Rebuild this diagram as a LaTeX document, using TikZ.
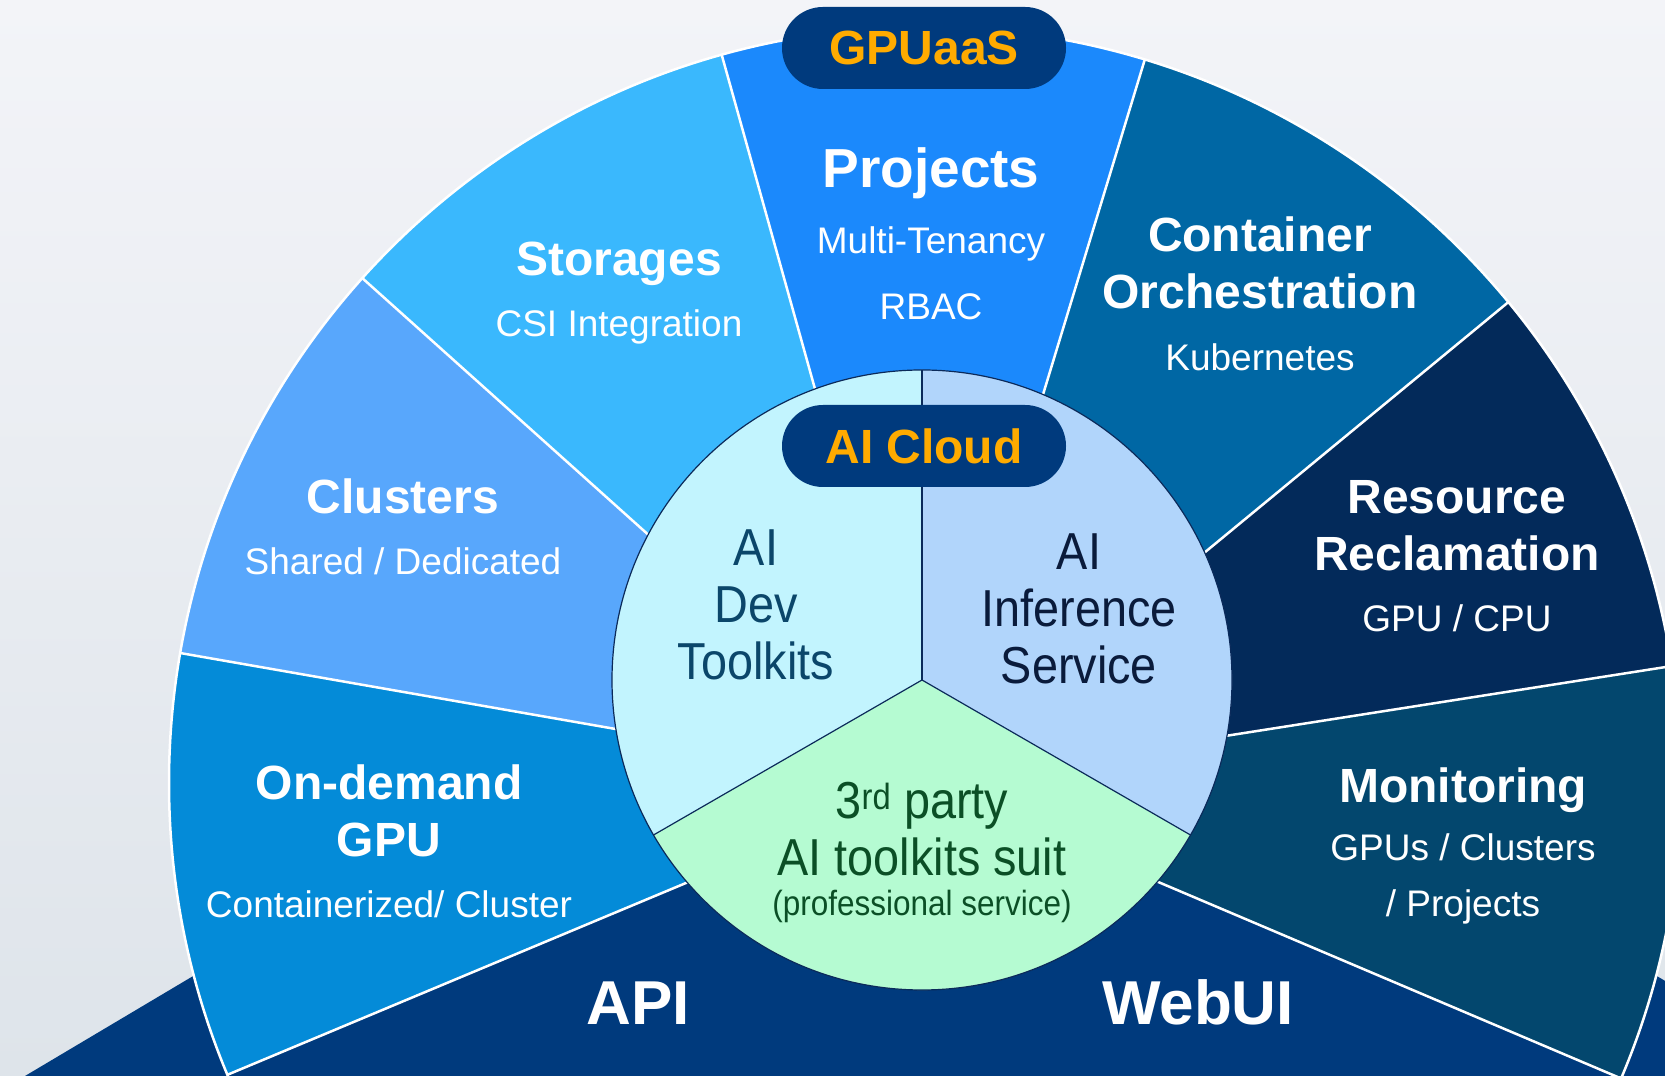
\documentclass[tikz,border=0pt]{standalone}
\usepackage{fontspec}
\setmainfont{Liberation Sans}
\newfontfamily\narrowfont{Liberation Sans}[FakeStretch=0.9]

\definecolor{bgtop}{HTML}{F3F4F8}
\definecolor{bgbottom}{HTML}{DEE4EA}
\definecolor{projblue}{HTML}{1B89FC}
\definecolor{storblue}{HTML}{3AB8FD}
\definecolor{clusblue}{HTML}{58A7FC}
\definecolor{gpublue}{HTML}{048BD8}
\definecolor{contblue}{HTML}{0067A4}
\definecolor{reclblue}{HTML}{032A5A}
\definecolor{monblue}{HTML}{03476E}
\definecolor{bandblue}{HTML}{003A7D}
\definecolor{gold}{HTML}{FFAB00}
\definecolor{devfill}{HTML}{C2F4FE}
\definecolor{inffill}{HTML}{B1D5FB}
\definecolor{partyfill}{HTML}{B5FBD2}
\definecolor{devtext}{HTML}{0B466A}
\definecolor{inftext}{HTML}{0A1B3B}
\definecolor{partytext}{HTML}{0B4F26}
\definecolor{rimline}{HTML}{0B2A5A}

\begin{document}
\begin{tikzpicture}[x=1pt, y=1pt,
    title/.style={text=white, font=\fontsize{48}{57}\selectfont\bfseries, align=center, anchor=base},
    sub/.style={text=white, font=\fontsize{37}{56}\selectfont, align=center, anchor=base},
    pill/.style={fill=bandblue, rounded corners=41pt, minimum width=284pt, minimum height=82pt,
                 text=gold, font=\fontsize{48}{48}\selectfont\bfseries},
    core/.style={font=\narrowfont\fontsize{52}{57}\selectfont, align=center, anchor=base},
    sep/.style={white, line width=2.5pt},
    rim/.style={rimline, line width=1.2pt}]
        \def \R {756}
        \def \r {310}

        \useasboundingbox (0,0) rectangle (1665,1076);
        \shade[top color=bgtop, bottom color=bgbottom] (0,0) rectangle (1665,1076);
        \clip (0,0) rectangle (1665,1076);

        \coordinate (O) at (925,293);
        \coordinate (C) at (922,396);

        % bottom band
        \fill[bandblue] (25,0) -- (925,535) -- (1825,0) -- cycle;

        % outer ring
        \fill[monblue]  (O) -- ++(-23:\R)  arc[start angle=-23,   end angle=8.9,   radius=\R] -- cycle;
        \fill[reclblue] (O) -- ++(8.9:\R)  arc[start angle=8.9,   end angle=39.5,  radius=\R] -- cycle;
        \fill[contblue] (O) -- ++(39.5:\R) arc[start angle=39.5,  end angle=73.1,  radius=\R] -- cycle;
        \fill[projblue] (O) -- ++(73.1:\R) arc[start angle=73.1,  end angle=105.6, radius=\R] -- cycle;
        \fill[storblue] (O) -- ++(105.6:\R) arc[start angle=105.6, end angle=138.1, radius=\R] -- cycle;
        \fill[clusblue] (O) -- ++(138.1:\R) arc[start angle=138.1, end angle=170.1, radius=\R] -- cycle;
        \fill[gpublue]  (O) -- ++(170.1:\R) arc[start angle=170.1, end angle=202.7, radius=\R] -- cycle;
        \fill[bandblue] (O) -- ++(202.7:\R) arc[start angle=202.7, end angle=337,   radius=\R] -- cycle;

        \draw[sep] (O) circle (\R);
        \foreach \a in {-23, 8.9, 39.5, 73.1, 105.6, 138.1, 170.1, 202.7}
          \draw[sep] (O) -- ++(\a:\R);

        % inner circle
        \fill[devfill]   (C) -- ++(90:\r)  arc[start angle=90,  end angle=210, radius=\r] -- cycle;
        \fill[inffill]   (C) -- ++(-30:\r) arc[start angle=-30, end angle=90,  radius=\r] -- cycle;
        \fill[partyfill] (C) -- ++(210:\r) arc[start angle=210, end angle=330, radius=\r] -- cycle;
        \draw[rim] (C) circle (\r);
        \draw[rim] (C) -- ++(90:\r);
        \draw[rim] (C) -- ++(210:\r);
        \draw[rim] (C) -- ++(330:\r);

        % labels (base = last line)
        \node[pill] (gpuaas) at (924,1028) {GPUaaS};
        \node[pill] (aicloud) at (924,630) {AI Cloud};

        \node[title, font=\fontsize{55}{57}\selectfont\bfseries] (projects) at (931,888) {Projects};
        \node[sub] (tenancy) at (931,822) {Multi-Tenancy};
        \node[sub] (rbac) at (931,756) {RBAC};

        \node[title] (storages) at (619,800) {Storages};
        \node[sub] (csi) at (619,739) {CSI Integration};

        \node[title] (container) at (1260,767) {Container\\Orchestration};
        \node[sub] (kube) at (1260,705) {Kubernetes};

        \node[title] (clusters) at (403,562) {Clusters};
        \node[sub] (shared) at (403,501) {Shared / Dedicated};

        \node[title] (reclaim) at (1457,505) {Resource\\Reclamation};
        \node[sub] (gpucpu) at (1457,444) {GPU / CPU};

        \node[title] (ondemand) at (389,219) {On-demand\\GPU};
        \node[sub] (contcl) at (389,158) {Containerized/ Cluster};

        \node[title] (monitor) at (1463,273) {Monitoring};
        \node[sub] (gpus) at (1463,159) {GPUs / Clusters\\/ Projects};

        \node[core, text=devtext] (devkit) at (756,396) {AI\\Dev\\Toolkits};
        \node[core, text=inftext] (infer) at (1079,392) {AI\\Inference\\Service};
        \node[core, text=partytext] (party) at (922,200) {3\textsuperscript{rd} party\\AI toolkits suit};
        \node[core, text=partytext, font=\narrowfont\fontsize{35}{40}\selectfont] (prof) at (922,160) {(professional service)};

        \node[text=white, font=\fontsize{62}{62}\selectfont\bfseries, anchor=base] (api) at (638,51) {API};
        \node[text=white, font=\fontsize{62}{62}\selectfont\bfseries, anchor=base] (webui) at (1198,51) {WebUI};
      \end{tikzpicture}
\end{document}
